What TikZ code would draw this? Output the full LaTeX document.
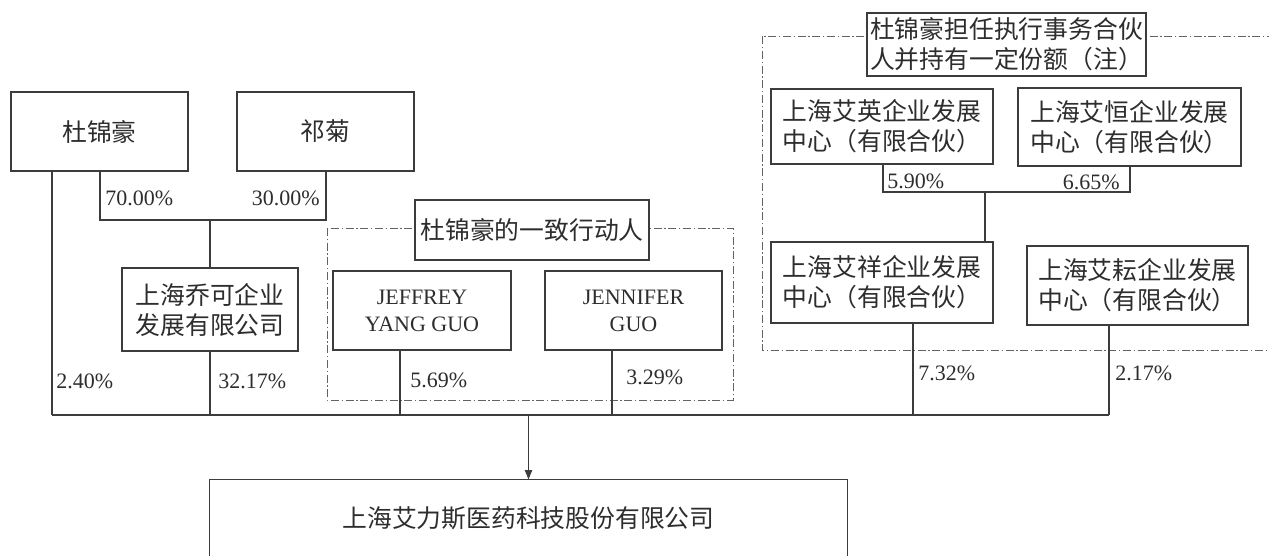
\documentclass[tikz,border=0pt]{standalone}
\usepackage{fontspec}
\setmainfont{Liberation Serif}
\newfontfamily\cjk{Noto Sans CJK SC}
\usetikzlibrary{arrows.meta}
\definecolor{ink}{RGB}{45,45,45}
\definecolor{lin}{RGB}{60,60,60}
\tikzset{
  sz/.style 2 args={minimum width=#1*0.75pt, minimum height=#2*0.75pt},
  box/.style={draw=lin, line width=0.9pt, fill=white, inner sep=0pt, align=center, text=ink,
    font=\cjk\fontsize{18.6}{22.5}\selectfont},
  enbox/.style={box, font=\fontsize{16.5}{20.25}\selectfont},
  pct/.style={inner sep=0pt, text=ink, font=\fontsize{16.5}{20}\selectfont},
  conn/.style={draw=lin, line width=0.9pt},
  grp/.style={draw=lin!80, line width=0.6pt, dash pattern=on 6pt off 2pt on 1pt off 2pt},
}
\begin{document}
\begin{tikzpicture}[x=0.75pt,y=-0.75pt]
\useasboundingbox (0,0) rectangle (1269,556);
% group frames
\draw[grp] (327,228) rectangle (733,400);
\draw[grp] (1275,36) -- (762,36) -- (762,350) -- (1275,350);
% boxes
\node[box, sz={177}{79}] (du) at (99.5,131.5) {杜锦豪};
\node[box, sz={177}{79}] (qi) at (325.5,131.5) {祁菊};
\node[box, sz={176}{83}] (qiao) at (210,309.5) {上海乔可企业\\发展有限公司};
\node[box, sz={234}{60}] (yz) at (532,230) {杜锦豪的一致行动人};
\node[enbox, sz={178}{79}] (jeff) at (422,310.5) {JEFFREY\\YANG GUO};
\node[enbox, sz={177}{79}] (jenn) at (633.5,310.5) {JENNIFER\\GUO};
\node[box, sz={279}{63}] (zhu) at (1006.5,44.5) {杜锦豪担任执行事务合伙\\人并持有一定份额（注）};
\node[box, sz={222}{75}] (ying) at (882,126.5) {上海艾英企业发展\\中心（有限合伙）};
\node[box, sz={223}{78}] (heng) at (1129.5,127) {上海艾恒企业发展\\中心（有限合伙）};
\node[box, sz={222}{81}] (xiang) at (882,282.5) {上海艾祥企业发展\\中心（有限合伙）};
\node[box, sz={221}{79}] (yun) at (1137.5,285.5) {上海艾耘企业发展\\中心（有限合伙）};
\node[box, draw=none, fill=none, sz={637}{76}] (co) at (528.5,518) {上海艾力斯医药科技股份有限公司};
\draw[conn] (co.south west) -- (co.north west) -- (co.north east) -- (co.south east);
% coordinates
\coordinate (k1L) at (100,220);
\coordinate (k1R) at (326,220);
\coordinate (k2L) at (883,192);
\coordinate (k2R) at (1130,192);
\coordinate (k2M) at (985,192);
\coordinate (b1) at (52,415);
\coordinate (b3) at (400,415);
\coordinate (b4) at (612,415);
\coordinate (b5) at (913,415);
\coordinate (b6) at (1109,415);
\coordinate (bj) at (528.5,415);
% connectors
\draw[conn] (k1L |- du.south) -- (k1L) -- (k1R) -- (k1R |- qi.south);
\draw[conn] (qiao.north) -- (qiao.north |- k1L);
\draw[conn] (k2L |- ying.south) -- (k2L) -- (k2R) -- (k2R |- heng.south);
\draw[conn] (k2M) -- (k2M |- xiang.north);
\draw[conn] (b1 |- du.south) -- (b1);
\draw[conn] (qiao.south) -- (qiao.south |- b1);
\draw[conn] (b3 |- jeff.south) -- (b3);
\draw[conn] (b4 |- jenn.south) -- (b4);
\draw[conn] (b5 |- xiang.south) -- (b5);
\draw[conn] (b6 |- yun.south) -- (b6);
\draw[conn] (b1) -- (b6);
\draw[conn, -{Triangle[length=7pt,width=5.5pt]}] (bj) -- (co.north);
% percentages
\node[pct, anchor=west] (p1) at (105,198) {70.00\%};
\node[pct, anchor=east] (p2) at (320,198) {30.00\%};
\node[pct, anchor=west] (p3) at (56,381) {2.40\%};
\node[pct, anchor=west] (p4) at (218,381) {32.17\%};
\node[pct, anchor=west] (p5) at (410,380) {5.69\%};
\node[pct, anchor=west] (p6) at (626,377) {3.29\%};
\node[pct, anchor=west] (p7) at (887,181) {5.90\%};
\node[pct, anchor=east] (p8) at (1120,182) {6.65\%};
\node[pct, anchor=west] (p9) at (918,373) {7.32\%};
\node[pct, anchor=west] (p10) at (1115,373) {2.17\%};
\end{tikzpicture}
\end{document}
